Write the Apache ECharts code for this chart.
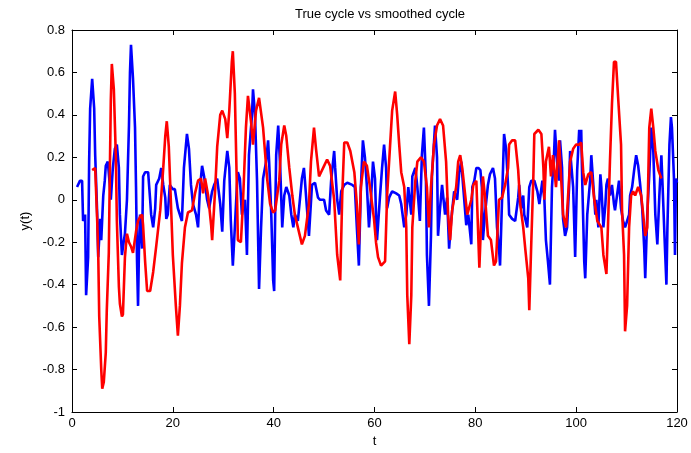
<!DOCTYPE html>
<html><head><meta charset="utf-8">
<script src="https://cdn.jsdelivr.net/npm/echarts@6/dist/echarts.min.js"></script>
<style>html,body{margin:0;padding:0;background:#fff}#c{width:691px;height:453px}</style>
</head><body><div id="c"></div>
<script>
const titleText = "True cycle vs smoothed cycle";
const xTicks = [0, 20, 40, 60, 80, 100, 120];
const yTicks = [-1, -0.8, -0.6, -0.4, -0.2, 0, 0.2, 0.4, 0.6, 0.8];

const blueT = [1.0,1.6,2.0,2.2,2.6,2.8,3.2,3.4,3.6,4.0,4.4,4.6,5.0,5.2,5.6,5.8,6.2,6.5,6.7,7.1,7.5,7.7,8.1,8.5,8.9,9.3,9.5,9.9,10.3,10.5,10.9,11.3,11.5,11.7,12.1,12.5,12.7,12.9,13.1,13.3,13.5,13.9,14.1,14.5,15.1,15.5,15.7,16.1,16.5,16.7,17.3,17.7,18.1,18.5,18.7,19.0,19.4,20.0,20.4,21.0,21.8,22.2,22.8,23.2,23.6,24.0,24.6,25.0,25.4,25.8,26.2,26.8,27.2,27.8,28.2,28.8,29.4,29.8,30.2,30.8,31.2,31.5,31.9,32.3,32.7,32.9,33.3,33.7,34.3,34.7,35.1,35.7,35.9,36.3,36.7,37.1,37.5,37.9,38.5,38.9,39.1,39.5,39.9,40.1,40.3,40.5,40.9,41.3,41.7,42.1,42.5,43.1,43.5,43.9,44.2,44.8,45.2,45.6,46.0,46.2,46.6,47.0,47.6,48.2,48.8,49.2,50.0,50.4,51.0,51.4,52.0,52.2,52.6,53.0,53.4,54.0,54.6,55.6,56.1,56.5,56.9,57.3,57.7,58.1,58.5,58.9,59.3,59.7,60.1,60.3,60.5,61.1,61.5,61.9,62.3,62.5,62.9,63.5,64.3,64.9,65.3,65.9,66.3,66.7,67.3,67.5,68.1,68.5,69.0,69.4,69.8,70.2,70.4,70.8,71.2,71.4,72.0,72.4,72.6,73.0,73.4,74.0,74.4,74.8,75.2,75.8,76.4,76.8,77.2,77.6,78.2,78.6,79.2,79.4,79.8,80.2,80.6,81.0,81.3,81.5,81.9,82.5,82.9,83.5,83.9,84.3,84.7,84.9,85.3,85.7,86.1,86.5,86.7,87.3,87.9,88.5,88.7,89.1,89.5,89.7,90.3,90.7,91.1,91.7,92.3,92.7,93.3,93.7,94.0,94.4,94.8,95.2,95.6,95.8,96.2,96.6,96.8,97.2,97.4,97.8,98.2,98.6,98.8,99.4,99.8,100.2,100.6,100.8,101.0,101.2,101.6,101.8,102.2,102.8,103.0,103.4,103.8,104.0,104.4,104.8,105.0,105.4,105.8,106.0,106.3,106.7,107.1,107.5,107.7,108.1,108.5,108.9,109.3,109.7,110.1,110.5,110.7,111.1,111.5,111.9,112.3,112.7,113.1,113.5,113.7,114.1,114.5,114.9,115.3,115.7,116.1,116.5,116.9,117.1,117.5,117.9,118.1,118.5,118.8,119.0,119.4,119.6,119.8,120.0];
const blueY = [0.06,0.09,0.09,-0.1,-0.07,-0.45,-0.27,0.18,0.43,0.57,0.43,0.21,-0.07,-0.27,-0.09,-0.19,0.02,0.09,0.16,0.18,0.07,0.0,0.15,0.24,0.26,0.15,-0.07,-0.26,-0.19,-0.16,0.0,0.35,0.6,0.73,0.57,0.34,0.06,-0.29,-0.5,-0.21,-0.07,-0.23,0.11,0.13,0.13,0.0,-0.07,-0.13,-0.04,0.07,0.1,0.15,0.07,0.01,-0.09,-0.07,0.07,0.05,0.05,-0.04,-0.1,0.15,0.31,0.24,0.07,-0.02,-0.07,-0.13,0.06,0.16,0.11,0.0,-0.04,0.04,0.07,0.1,-0.02,-0.15,0.09,0.23,0.15,-0.1,-0.31,-0.13,0.06,0.13,0.1,-0.07,0.0,-0.26,0.21,0.4,0.52,0.4,0.09,-0.42,-0.13,0.1,0.18,0.28,0.18,-0.05,-0.38,-0.43,-0.07,0.21,0.35,0.15,-0.13,0.02,0.06,0.02,-0.07,-0.13,-0.07,-0.1,0.0,0.1,0.15,0.09,-0.04,-0.17,0.07,0.08,0.01,0.0,0.0,-0.05,-0.07,0.09,0.23,0.15,0.0,-0.07,0.04,0.07,0.08,0.07,0.06,-0.13,-0.31,0.06,0.28,0.2,0.06,-0.13,0.0,0.18,0.1,-0.07,-0.19,0.02,0.15,0.26,0.15,-0.04,0.01,0.04,0.03,0.02,-0.02,-0.13,-0.07,0.06,-0.07,0.11,0.15,0.06,-0.1,0.21,0.34,0.1,-0.26,-0.5,-0.17,0.11,0.35,0.2,-0.17,-0.04,0.07,-0.07,0.01,-0.23,-0.1,0.04,0.0,0.13,0.18,0.06,-0.12,-0.07,-0.21,0.06,0.09,0.15,0.15,0.14,0.06,-0.19,-0.07,0.07,0.12,0.15,0.1,-0.13,-0.23,-0.31,0.0,0.31,0.24,0.06,-0.07,-0.09,-0.1,0.01,0.07,-0.04,0.02,-0.07,-0.13,0.06,0.09,0.09,0.04,-0.02,0.09,0.0,-0.19,-0.29,-0.4,0.06,0.21,0.33,0.18,0.09,0.28,0.15,-0.09,-0.17,-0.13,0.06,0.23,0.06,-0.27,0.14,0.33,0.26,0.33,0.09,-0.29,-0.37,-0.07,0.1,0.21,0.07,-0.07,0.0,-0.13,0.12,0.06,-0.13,-0.02,0.07,0.1,0.02,0.07,-0.02,-0.05,0.02,0.09,-0.04,-0.1,-0.13,-0.1,-0.07,0.02,0.06,0.14,0.21,0.16,0.07,-0.04,-0.23,-0.37,-0.07,0.12,0.34,0.23,-0.07,-0.21,0.02,0.21,0.09,-0.16,-0.4,-0.13,0.26,0.39,0.34,0.1,-0.26,0.1,0.08];

const redT = [4.0,4.6,5.0,5.2,5.4,5.8,6.0,6.3,6.7,6.9,7.3,7.5,7.7,7.9,8.3,8.7,8.9,9.3,9.5,9.9,10.1,10.5,10.9,11.3,11.7,12.1,12.7,13.1,13.5,13.9,14.1,14.5,14.9,15.5,16.1,16.7,17.5,18.1,18.5,18.8,19.2,19.6,20.0,20.6,21.0,21.4,21.8,22.4,23.0,23.8,24.4,25.0,25.6,26.0,26.4,27.0,27.6,27.8,28.4,28.8,29.0,29.4,29.8,30.4,30.8,31.2,31.7,31.9,32.3,32.7,32.9,33.5,33.9,34.5,34.9,35.5,35.9,36.5,37.1,37.9,38.7,39.3,39.9,40.3,41.1,41.5,42.1,42.5,43.1,43.7,44.2,45.0,45.6,46.2,47.0,47.4,48.0,48.4,49.0,49.4,50.0,50.6,51.2,52.0,52.6,53.2,53.6,54.0,54.6,55.2,56.0,56.5,56.9,57.3,57.9,58.5,59.1,59.9,60.3,60.7,61.3,62.1,62.5,63.1,63.5,64.1,64.5,64.9,65.3,65.9,66.3,66.5,66.9,67.3,67.5,68.1,68.5,69.2,69.8,70.4,70.8,71.2,71.8,72.4,73.0,73.6,74.2,74.6,75.0,75.4,76.2,76.6,77.0,77.4,78.0,78.4,79.2,79.6,80.2,80.8,81.2,81.5,81.9,82.5,83.1,83.7,84.1,84.7,85.3,85.9,86.5,86.7,87.3,87.9,88.5,88.9,89.5,89.9,90.5,90.7,91.1,91.5,91.7,92.5,93.1,93.5,93.7,94.0,94.6,95.0,95.4,96.0,96.6,97.0,97.4,98.0,98.4,98.8,99.4,100.0,100.6,101.0,101.4,101.8,102.4,103.0,103.6,104.2,105.0,105.4,106.0,106.3,106.7,107.1,107.5,107.9,108.3,108.9,109.1,109.5,109.7,110.1,110.5,110.9,111.3,111.7,112.3,112.9,113.3,113.7,114.1,114.5,114.9,115.3,115.7,116.3,116.9];
const redY = [0.14,0.15,-0.1,-0.25,-0.55,-0.8,-0.89,-0.86,-0.72,-0.52,-0.25,0.12,0.47,0.64,0.52,0.2,-0.1,-0.41,-0.49,-0.55,-0.54,-0.27,-0.16,-0.2,-0.22,-0.25,-0.15,-0.1,-0.08,-0.07,-0.12,-0.29,-0.43,-0.43,-0.34,-0.22,-0.05,0.15,0.3,0.37,0.25,0.0,-0.26,-0.5,-0.64,-0.5,-0.3,-0.13,-0.06,-0.05,0.03,0.09,0.1,0.03,0.1,0.02,-0.12,-0.19,0.05,0.25,0.3,0.4,0.42,0.38,0.29,0.42,0.65,0.7,0.5,0.06,-0.19,-0.2,-0.02,0.34,0.49,0.37,0.26,0.42,0.48,0.34,0.1,-0.02,-0.06,-0.05,0.09,0.26,0.35,0.3,0.15,0.02,-0.07,-0.15,-0.21,-0.17,-0.02,0.18,0.34,0.24,0.11,0.13,0.16,0.19,0.16,0.0,-0.26,-0.38,0.02,0.27,0.27,0.23,0.13,-0.02,-0.21,0.06,0.18,0.16,0.06,-0.09,-0.2,-0.27,-0.31,-0.29,0.02,0.26,0.42,0.51,0.4,0.26,0.13,0.06,-0.13,-0.45,-0.68,-0.45,-0.13,0.09,0.18,0.2,0.18,0.06,-0.13,0.06,0.26,0.35,0.38,0.35,0.18,-0.07,-0.19,-0.05,0.06,0.18,0.21,0.15,0.02,-0.07,0.0,0.07,0.09,-0.32,-0.07,0.11,0.02,-0.17,-0.19,-0.31,-0.29,0.0,0.01,0.07,0.15,0.26,0.28,0.28,0.14,-0.02,-0.13,-0.23,-0.37,-0.52,-0.2,0.1,0.31,0.33,0.31,0.15,0.0,0.18,0.25,0.11,0.21,0.06,0.28,0.11,-0.07,-0.13,0.02,0.18,0.24,0.26,0.26,0.27,0.13,0.07,0.12,0.13,0.0,-0.1,-0.13,-0.26,-0.35,-0.13,0.18,0.45,0.65,0.65,0.49,0.26,-0.05,-0.26,-0.62,-0.5,-0.13,0.02,0.04,0.02,0.06,0.02,-0.07,-0.17,-0.13,0.34,0.43,0.34,0.23,0.14,0.1];

const pair = (t, y) => t.map((v, i) => [v, y[i]]);
const axisBase = {
  type: 'value', min: 0, max: 120, interval: 20,
  axisLine: { show: true, onZero: false, lineStyle: { color: '#000', width: 1 } },
  axisTick: { show: true, inside: true, length: 5, lineStyle: { color: '#000' } },
  splitLine: { show: false }
};
const yBase = {
  type: 'value', min: -1, max: 0.8, interval: 0.2,
  axisLine: { show: true, onZero: false, lineStyle: { color: '#000', width: 1 } },
  axisTick: { show: true, inside: true, length: 5, lineStyle: { color: '#000' } },
  splitLine: { show: false }
};
const lbl = { color: '#000', fontFamily: 'Liberation Sans, Arial, sans-serif', fontSize: 13 };
const chart = echarts.init(document.getElementById('c'));
chart.setOption({
  backgroundColor: '#fff',
  animation: false,
  title: { text: titleText, left: 375, top: 3, textAlign: 'center',
    textStyle: { fontSize: 13, fontWeight: 'normal', color: '#000', fontFamily: 'Liberation Sans, Arial, sans-serif' } },
  grid: { left: 72, right: 14, top: 30, bottom: 41 },
  xAxis: [
    Object.assign({}, axisBase, { position: 'bottom', name: 't', nameLocation: 'middle', nameGap: 20,
      nameTextStyle: lbl, axisLabel: Object.assign({ margin: 5, formatter: v => xTicks.includes(v) ? String(v) : '' }, lbl) }),
    Object.assign({}, axisBase, { position: 'top', axisLabel: { show: false } })
  ],
  yAxis: [
    Object.assign({}, yBase, { position: 'left', name: 'y(t)', nameLocation: 'middle', nameGap: 40, nameRotate: 90,
      nameTextStyle: lbl, axisLabel: Object.assign({ margin: 7, formatter: v => String(Math.round(v * 10) / 10) }, lbl) }),
    Object.assign({}, yBase, { position: 'right', axisLabel: { show: false } })
  ],
  series: [
    { type: 'line', name: 'True cycle', data: pair(blueT, blueY), showSymbol: false, symbol: 'none',
      lineStyle: { color: '#0000ff', width: 2.6 }, xAxisIndex: 0, yAxisIndex: 0 },
    { type: 'line', name: 'Smoothed cycle', data: pair(redT, redY), showSymbol: false, symbol: 'none',
      lineStyle: { color: '#ff0000', width: 2.6 }, xAxisIndex: 0, yAxisIndex: 0 }
  ]
});
</script></body></html>
